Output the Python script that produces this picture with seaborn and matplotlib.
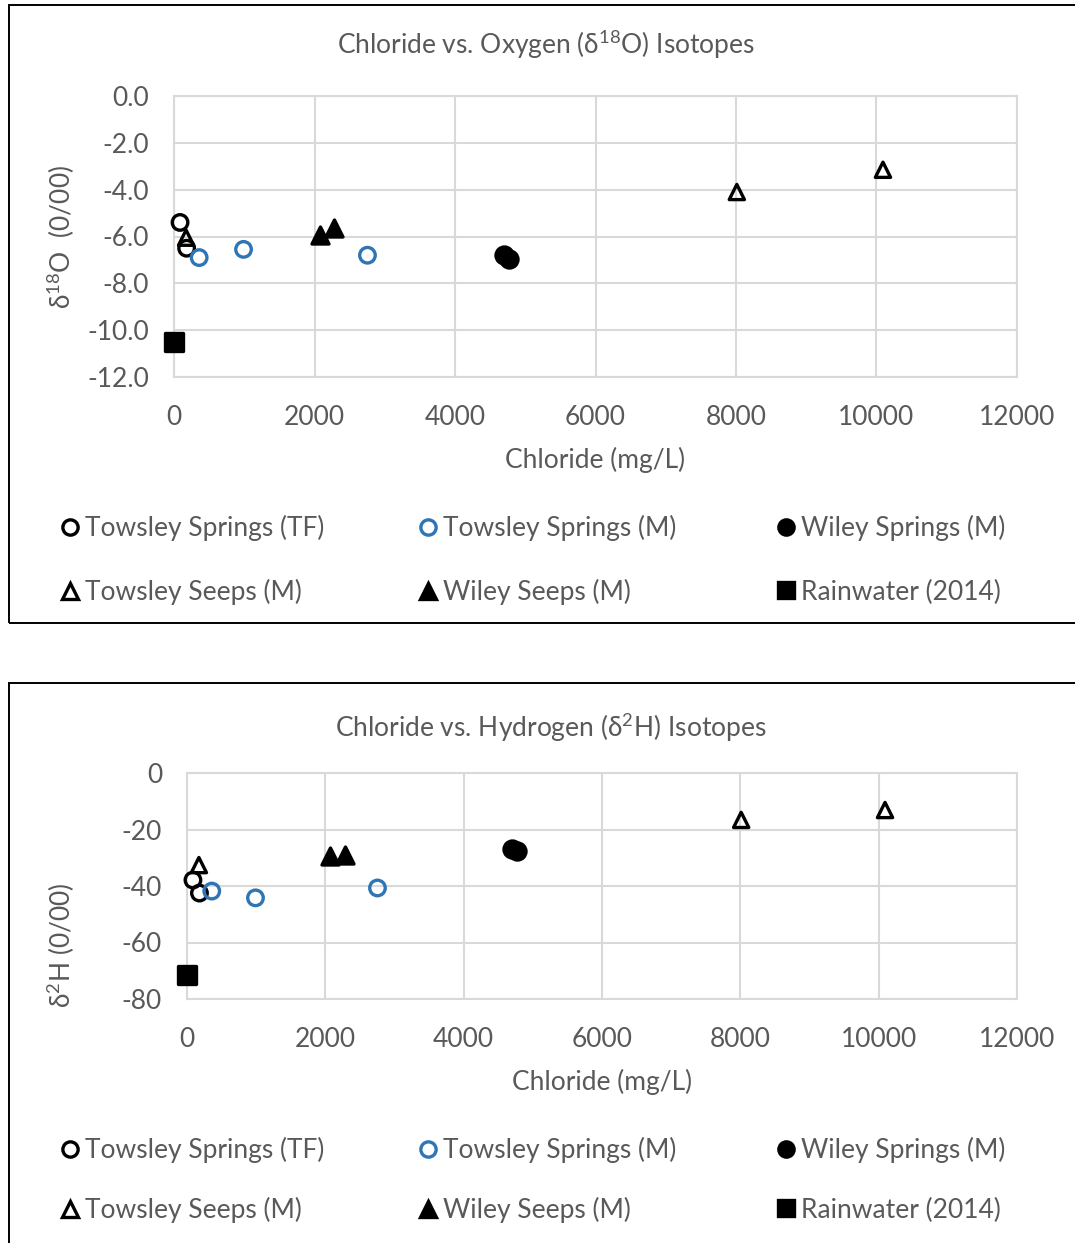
import matplotlib
matplotlib.use("Agg")
import matplotlib.pyplot as plt
import seaborn as sns
import pandas as pd
from matplotlib.lines import Line2D
from matplotlib.patches import Rectangle

sns.set_theme(style="white")
plt.rcParams["font.family"] = ["Lato", "DejaVu Sans"]

# ---------------- data ----------------
series = ["Towsley Springs (TF)", "Towsley Springs (M)", "Wiley Springs (M)",
          "Towsley Seeps (M)", "Wiley Seeps (M)", "Rainwater (2014)"]

# chloride (mg/L) per series
cl_tf = [86, 180]
cl_tspm = [358, 990, 2754]
cl_wsp = [4698, 4765]
cl_tseep = [172, 8012, 10092]
cl_wseep = [2073, 2281]
cl_rain = [0]

# delta 18O (per mil)
o18_tf = [-5.4, -6.5]
o18_tspm = [-6.9, -6.55, -6.8]
o18_wsp = [-6.8, -6.95]
o18_tseep = [-6.05, -4.1, -3.15]
o18_wseep = [-5.95, -5.65]
o18_rain = [-10.5]

# delta 2H (per mil)
h2_tf = [-37.9, -42.5]
h2_tspm = [-41.8, -44.2, -40.7]
h2_wsp = [-26.9, -27.5]
h2_tseep = [-32.6, -16.6, -13.1]
h2_wseep = [-29.4, -29.0]
h2_rain = [-71.5]

x_ticks = [0, 2000, 4000, 6000, 8000, 10000, 12000]
o18_ticks = [0.0, -2.0, -4.0, -6.0, -8.0, -10.0, -12.0]
h2_ticks = [0, -20, -40, -60, -80]

BLUE = "#2E75B6"
TXT = "#595959"
GRID = "#D9D9D9"

styles = {
    "Towsley Springs (TF)": dict(marker="o", fc="none", ec="black", s=125),
    "Towsley Springs (M)": dict(marker="o", fc="none", ec=BLUE, s=125),
    "Wiley Springs (M)": dict(marker="o", fc="black", ec="black", s=150),
    "Towsley Seeps (M)": dict(marker="^", fc="none", ec="black", s=120),
    "Wiley Seeps (M)": dict(marker="^", fc="black", ec="black", s=150),
    "Rainwater (2014)": dict(marker="s", fc="black", ec="black", s=150),
}

cl_all = [cl_tf, cl_tspm, cl_wsp, cl_tseep, cl_wseep, cl_rain]
o18_all = [o18_tf, o18_tspm, o18_wsp, o18_tseep, o18_wseep, o18_rain]
h2_all = [h2_tf, h2_tspm, h2_wsp, h2_tseep, h2_wseep, h2_rain]

W, H = 1075, 1243
fig = plt.figure(figsize=(W / 100, H / 100), dpi=100)

FS = 19


def fx(px):
    return px / W


def fy(py):
    return 1 - py / H


fig.add_artist(Rectangle((fx(8.5), fy(623)), 1.0, fy(5) - fy(623),
                         transform=fig.transFigure, fill=False,
                         edgecolor="black", lw=1.4))
fig.add_artist(Rectangle((fx(9), -0.05), 1.0, fy(683) + 0.05,
                         transform=fig.transFigure, fill=False,
                         edgecolor="black", lw=1.4))


def make_chart(rect, yvals, yticks, ylim, yfmt, title, title_xy, ylabel,
               ylab_xy, xlab_y, legend_rows):
    ax = fig.add_axes(rect)
    for name, xs, ys in zip(series, cl_all, yvals):
        st = styles[name]
        df = pd.DataFrame({"x": xs, "y": ys})
        sns.scatterplot(data=df, x="x", y="y", ax=ax, marker=st["marker"],
                        s=st["s"], color=st["ec"], facecolor=st["fc"],
                        edgecolor=st["ec"], linewidth=2.4, zorder=3,
                        clip_on=False)
    ax.set_xlim(0, 12000)
    ax.set_ylim(*ylim)
    ax.set_xticks(x_ticks)
    ax.set_xticklabels([str(v) for v in x_ticks])
    ax.set_yticks(yticks)
    ax.set_yticklabels([yfmt.format(v) for v in yticks])
    ax.grid(True, color=GRID, lw=1.5)
    ax.set_axisbelow(True)
    for sp in ax.spines.values():
        sp.set_color(GRID)
        sp.set_linewidth(1.5)
    ax.tick_params(axis="y", length=0, labelsize=FS, colors=TXT, pad=18)
    ax.tick_params(axis="x", length=0, labelsize=FS, colors=TXT, pad=20)
    ax.set_xlabel("Chloride (mg/L)", fontsize=FS, color=TXT)
    ax.set_ylabel(ylabel, fontsize=FS, color=TXT)
    ax.xaxis.set_label_coords(0.5, xlab_y)
    ax.yaxis.set_label_coords(*ylab_xy)
    fig.text(fx(title_xy[0]), fy(title_xy[1]), title, fontsize=FS,
             color=TXT, ha="center", va="center")
    cols = [59, 417, 775]
    order = [[0, 1, 2], [3, 4, 5]]
    for r, row in enumerate(order):
        for c, idx in enumerate(row):
            name = series[idx]
            st = styles[name]
            h = Line2D([], [], linestyle="none", marker=st["marker"],
                       markersize=11, markerfacecolor=st["fc"],
                       markeredgecolor=st["ec"], markeredgewidth=2.4)
            fig.legend([h], [name], loc="center left",
                       bbox_to_anchor=(fx(cols[c]), fy(legend_rows[r])),
                       bbox_transform=fig.transFigure, frameon=False,
                       borderpad=0, borderaxespad=0, handlelength=0.8,
                       handletextpad=0.2, fontsize=FS, labelcolor=TXT)
    return ax


make_chart([fx(174), fy(377), fx(1017) - fx(174), fy(96) - fy(377)],
           o18_all, o18_ticks, (-12, 0), "{:.1f}",
           r"Chloride vs. Oxygen (δ$^{\mathregular{18}}$O) Isotopes", (546, 44),
           r"δ$^{\mathregular{18}}$O  (0/00)", (-0.115, 0.5), -0.25, [528, 592])

make_chart([fx(187), fy(999), fx(1017) - fx(187), fy(773) - fy(999)],
           h2_all, h2_ticks, (-80, 0), "{:.0f}",
           r"Chloride vs. Hydrogen (δ$^{\mathregular{2}}$H) Isotopes", (551, 727),
           r"δ$^{\mathregular{2}}$H (0/00)", (-0.1325, 0.239), -0.31, [1150, 1210])

fig.savefig("out.png", dpi=100)
